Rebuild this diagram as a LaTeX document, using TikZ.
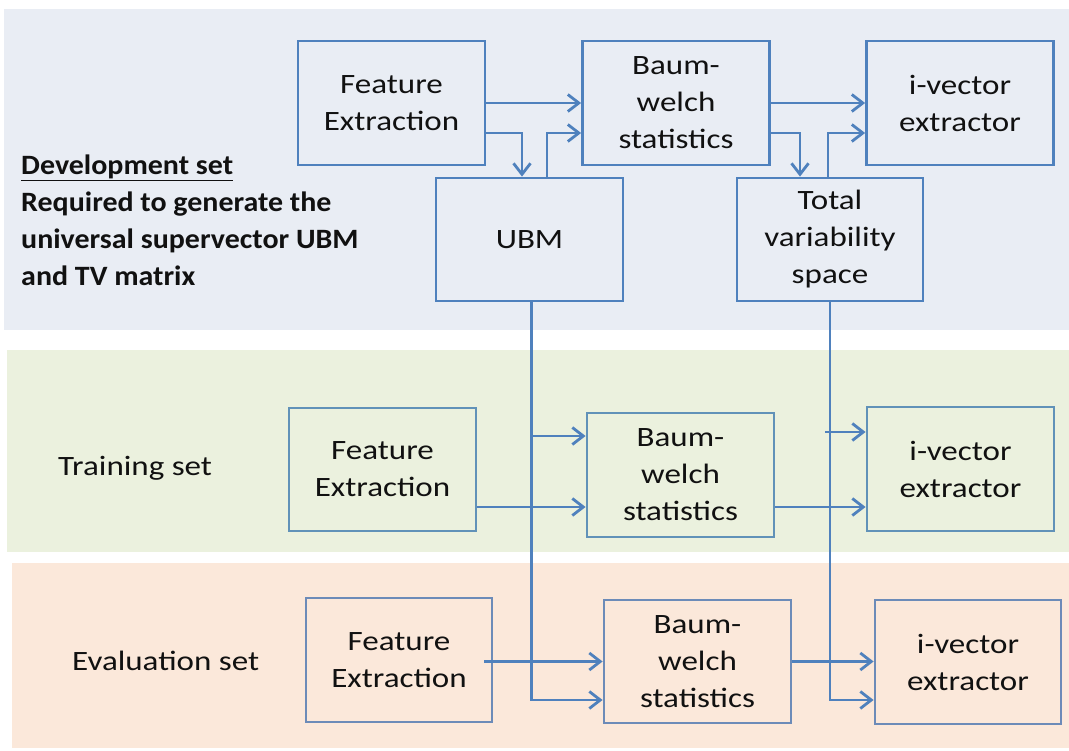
\documentclass[tikz,border=0pt]{standalone}
\usepackage{fontspec}
\setmainfont{Carlito}
\newfontfamily\boxfont[FakeStretch=1.18]{Carlito}
\newfontfamily\headfont[FakeStretch=1.07]{Carlito}
\usetikzlibrary{arrows.meta}
\definecolor{devbg}{HTML}{E9EDF4}
\definecolor{trainbg}{HTML}{EBF1DE}
\definecolor{evalbg}{HTML}{FBE8DA}
\definecolor{flow}{HTML}{4F81BD}
\definecolor{trainedge}{HTML}{6192B8}
\definecolor{evaledge}{HTML}{6C8BB8}
\definecolor{ink}{HTML}{111111}
\tikzset{
  block/.style={draw=flow, line width=2.8pt, rectangle, minimum width=187pt,
    minimum height=124pt, align=center, text=ink, inner sep=0pt,
    font=\boxfont\fontsize{28}{37}\selectfont},
  conn/.style={draw=flow, line width=2.8pt, -{Straight Barb[length=11pt,width=17pt,line width=2.8pt]}},
  setlabel/.style={anchor=west, text=ink, align=left, inner sep=0pt,
    font=\boxfont\fontsize{28}{37}\selectfont},
}
\begin{document}
\begin{tikzpicture}[x=1pt,y=-1pt]
\useasboundingbox (0,0) rectangle (1069,751);
% background bands
\fill[devbg] (4,9) rectangle (1069,330);
\fill[trainbg] (7,350) rectangle (1069,552);
\fill[evalbg] (12,563) rectangle (1069,748);

% development set
\node[block] (dfe) at (391.5,103) {Feature\\Extraction};
\node[block] (dbw) at (676,103) {Baum-\\welch\\statistics};
\node[block] (div) at (960,103) {i-vector\\extractor};
\node[block, minimum height=123pt] (ubm) at (529.5,239.5) {UBM};
\node[block, minimum height=123pt, minimum width=186pt] (tv) at (830,239.5) {Total\\variability\\space};
\node[setlabel, font=\headfont\bfseries\fontsize{28}{37}\selectfont] (devlab) at (21,220)
  {\underline{Development set}\\Required to generate the\\universal supervector UBM\\and TV matrix};

% training set
\node[block, draw=trainedge, minimum height=123pt] (tfe) at (382.5,469.5) {Feature\\Extraction};
\node[block, draw=trainedge] (tbw) at (680.5,475) {Baum-\\welch\\statistics};
\node[block, draw=trainedge] (tiv) at (960.5,469) {i-vector\\extractor};
\node[setlabel] (trlab) at (58,468) {Training set};

% evaluation set
\node[block, draw=evaledge, minimum width=186pt] (efe) at (399,660) {Feature\\Extraction};
\node[block, draw=evaledge, minimum height=123pt] (ebw) at (697.5,661.5) {Baum-\\welch\\statistics};
\node[block, draw=evaledge, minimum width=186pt] (eiv) at (968,662) {i-vector\\extractor};
\node[setlabel] (evlab) at (72,661) {Evaluation set};

% development flow
\draw[conn] (dfe.east) -- (dbw.west);
\draw[conn] ([yshift=-30pt]dfe.east) -| ([xshift=-7.5pt]ubm.north);
\draw[conn] ([xshift=17.5pt]ubm.north) |- ([yshift=-30pt]dbw.west);
\draw[conn] (dbw.east) -- (div.west);
\draw[conn] ([yshift=-30pt]dbw.east) -| ([xshift=-30pt]tv.north);
\draw[conn] ([xshift=-2pt]tv.north) |- ([yshift=-30pt]div.west);

% UBM feeding the statistics of both sets
\coordinate (ux) at ([xshift=2pt]ubm.south);
\coordinate (ta) at ([yshift=39pt]tbw.west);
\coordinate (tb) at ([yshift=-32pt]tbw.west);
\coordinate (eb) at ([yshift=-38.5pt]ebw.west);
\draw[conn] (ux) |- (eb);
\draw[conn] (ux |- ta) -- (ta);

% total variability feeding the extractors of both sets
\coordinate (tvx) at (tv.south);
\coordinate (ia) at ([yshift=37pt]tiv.west);
\coordinate (ib) at ([yshift=-38pt]tiv.west);
\coordinate (ec) at ([yshift=-38pt]eiv.west);
\draw[conn] (tvx) |- (ec);
\draw[conn] ([xshift=-5pt]tvx |- ia) -- (ia);

% training flow
\draw[conn] (tfe.east |- tb) -- (tb);
\draw[conn] (tbw.east |- ib) -- (ib);

% evaluation flow
\draw[conn] ([xshift=-9pt]efe.east |- ebw.west) -- (ebw.west);
\draw[conn] (ebw.east) -- (eiv.west |- ebw.east);
\end{tikzpicture}
\end{document}
